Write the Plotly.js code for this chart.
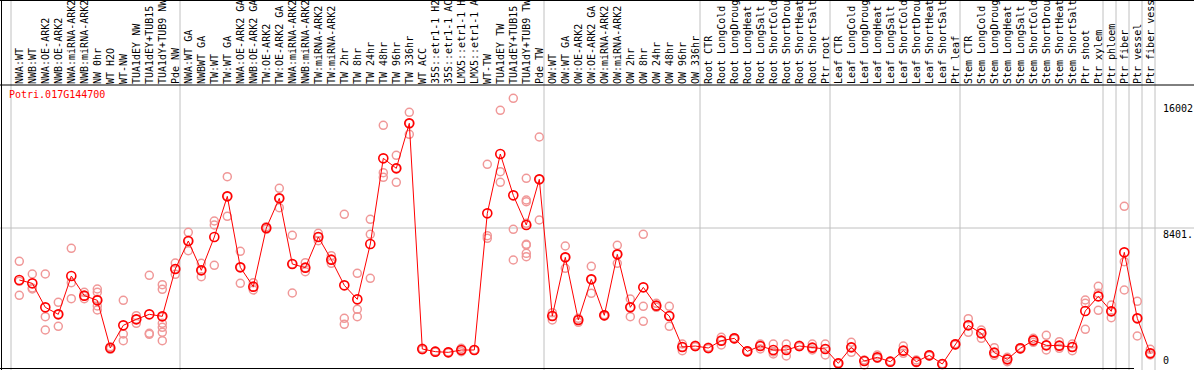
<!DOCTYPE html>
<html>
<head>
<meta charset="utf-8">
<script src="https://cdn.plot.ly/plotly-3.0.1.min.js"></script>
<style>
html,body{margin:0;padding:0;background:#fff;}
#chart{width:1194px;height:370px;}
</style>
</head>
<body>
<div id="chart"></div>
<script>
const geneName = "Potri.017G144700";

const categories = [
 "NWA:WT","NWB:WT","NWA:OE-ARK2","NWB:OE-ARK2","NWA:miRNA-ARK2","NWB:miRNA-ARK2","NW 0hr","WT H2O","WT-NW","TUA1dEY NW","TUA1dEY+TUB15","TUA1dY+TUB9 NW","Pde NW",
 "NWA:WT GA","NWBWT GA","TW:WT","TW:WT GA","NWA:OE-ARK2 GA","NWB:OE-ARK2 GA","TW:OE-ARK2","TW:OE-ARK2 GA","NWA:miRNA-ARK2","NWB:miRNA-ARK2","TW:miRNA-ARK2","TW:miRNA-ARK2",
 "TW 2hr","TW 8hr","TW 24hr","TW 48hr","TW 96hr","TW 336hr","WT ACC","35S::etr1-1 H2","35S::etr1-1 AC","LMX5::etr1-1 H","LMX5::etr1-1 A","WT-TW","TUA1dEY TW","TUA1dEY+TUB15","TUA1dY+TUB9 TW","Pde TW",
 "OW:WT","OW:WT GA","OW:OE-ARK2","OW:OE-ARK2 GA","OW:miRNA-ARK2","OW:miRNA-ARK2","OW 2hr","OW 8hr","OW 24hr","OW 48hr","OW 96hr","OW 336hr",
 "Root CTR","Root LongCold","Root LongDroug","Root LongHeat","Root LongSalt","Root ShortCold","Root ShortDrou","Root ShortHeat","Root ShortSalt","Ptr root",
 "Leaf CTR","Leaf LongCold","Leaf LongDroug","Leaf LongHeat","Leaf LongSalt","Leaf ShortCold","Leaf ShortDrou","Leaf ShortHeat","Leaf ShortSalt","Ptr leaf",
 "Stem CTR","Stem LongCold","Stem LongDroug","Stem LongHeat","Stem LongSalt","Stem ShortCold","Stem ShortDrou","Stem ShortHeat","Stem ShortSalt","Ptr shoot","Ptr xylem",
 "Ptr phloem","Ptr fiber","Ptr vessel","Ptr fiber vess"
];

// index of the last category of each group (group separators)
const groupEnds = [-1, 12, 40, 52, 62, 72, 83, 84, 85, 86, 87];

const means = [
 5258,5057,3606,3183,5500,4311,4029,1148,2518,2881,3183,3062,5923,
 7615,5842,7857,10315,6024,4855,8401,10194,6225,6004,7857,6487,
 4936,4090,7434,12611,12007,14727,1088,927,886,1027,1027,9287,12873,10375,8582,11342,
 3082,6628,2841,5298,3123,6809,3606,4815,3707,3082,1209,1269,
 1148,1592,1733,947,1269,1027,1027,1269,1168,1088,
 222,1189,363,584,322,987,322,705,181,1370,
 2518,2035,866,463,1128,1612,1309,1289,1209,3385,4271,
 3364,6930,2941,826
];

const replicates = [
 [6386,5178,4331],[5621,4775,4714],[5621,3042,2236],[3908,3183,2458],[7172,5097,4130],[4513,4291,4130],
 [4714,4513,4090,3687,3445],[1229,1148,1068],[4029,1994,1592],[3102,2639,2881],[5540,2035,1974],
 [4976,4694,3042,2639,2397,2095,1592],[6286,5601,5923],
 [8139,7031,7615],[6265,5460,5842],[8824,8582,6145],[11503,9106,10315],[6991,5057,6024],[5097,4654,4815],
 [8481,8401,8320],[10798,9630,10194],[7958,4472,6225],[6306,5762,6004],[8079,7635,7857],[6729,6265,6487],
 [9227,2941,2579],[5661,3485,3042],[8925,8018,5359],[14606,11745,11463],[12793,11161,12007],[15392,14062,14727],
 [1048,1088,1128],[907,927,947],[866,886,906],[1128,927,1027],[1007,1027,1047],
 [12249,7938,7776],[15512,11806,11161],[16238,8320,6467],
 [11403,10093,9992,8683,7414,7373,6870,6668],[13901,8884,11342],
 [3284,2841,3082],[7313,5963,6628],[2941,2700,2841],[6084,4452,5298],[3083,3123,3163],[7353,6265,6809],
 [4110,3042,3606],[8018,3667,2760],[3848,3606,3707],[3667,2458,3082],[1390,987,1209],[1269,1229,1309],
 [1148,1108,1188],[1793,1330,1592],[1733,1693,1773],[947,907,987],[1390,1088,1269],[1390,786,907],
 [1390,665,1027],[1269,1229,1309],[1390,1027,1168],[1390,725,1088],
 [222,202,242],[1491,886,1189],[423,121,363],[725,524,584],[322,302,342],[1269,826,987],[322,423,262],
 [705,665,745],[181,161,201],[1370,1330,1410],
 [2921,2095,2518],[2236,1733,2035],[1168,705,866],[584,322,463],[1128,1088,1168],[1733,1612,1491],
 [1914,1027,1309],[1531,1128,1289],[1390,987,1209],[4049,3848,2276],[4875,3425,4452],
 [3747,2982,3364],[9710,4654,6366],[3969,1874,2941],[1068,725,826]
];

const axisMarks = [16002, 8401, 0];
const axisMarkText = ["16002", "8401.", "0"];

// ---- layout geometry ----
const W = 1194, H = 370;
const marginTop = 85, marginBottom = 1;
const plotH = H - marginTop - marginBottom;
const firstX = 19.3, step = 13;           // pixel position of first category, spacing
const xRange = [-firstX / step, (W - firstX) / step];
const zeroPix = 367, pxPerUnit = 139 / 8401; // pixel y of 0, scale
const yRange = [-(H - marginBottom - zeroPix) / pxPerUnit, (zeroPix - marginTop) / pxPerUnit];
const paperY = p => (H - marginBottom - p) / plotH; // pixel y -> paper y
const paperX = p => p / W;

const idx = categories.map((_, i) => i);
const repX = [], repY = [];
replicates.forEach((arr, i) => arr.forEach(v => { repX.push(i); repY.push(v); }));

const traces = [
 {
  x: repX, y: repY, type: 'scatter', mode: 'markers', hoverinfo: 'skip',
  marker: {symbol: 'circle-open', size: 8, color: '#f09898', line: {width: 1.5, color: '#f09898'}},
  showlegend: false, cliponaxis: false
 },
 {
  x: idx, y: means, type: 'scatter', mode: 'lines+markers',
  line: {color: '#ff0000', width: 1},
  marker: {symbol: 'circle-open', size: 9, color: '#ff0000', line: {width: 1.6, color: '#ff0000'}},
  showlegend: false, cliponaxis: false
 }
];

const grey = '#c0c0c0';
const shapes = [];
groupEnds.forEach(g => {
  const xv = g + (firstX + step * (g + 1) - firstX - 8.3 - step * g + step * g) / step * 0; // placeholder
});
// vertical separators, 4.7px right of the last category of each group
groupEnds.forEach(g => {
  const xv = g + 4.7 / step;
  shapes.push({type: 'line', xref: 'x', yref: 'paper', x0: xv, x1: xv, y0: paperY(H), y1: paperY(0),
    line: {color: grey, width: 1}, layer: 'below'});
});
// horizontal middle grid line
shapes.push({type: 'line', xref: 'paper', yref: 'y', x0: 0, x1: 1, y0: axisMarks[1], y1: axisMarks[1],
  line: {color: grey, width: 1}, layer: 'below'});
// black frame lines
const black = '#000000';
shapes.push({type: 'line', xref: 'paper', yref: 'paper', x0: 0, x1: 1, y0: paperY(0.5), y1: paperY(0.5), line: {color: black, width: 1}});
shapes.push({type: 'line', xref: 'paper', yref: 'paper', x0: 0, x1: 1, y0: 1, y1: 1, line: {color: black, width: 1}});
shapes.push({type: 'line', xref: 'paper', yref: 'paper', x0: paperX(1.5), x1: paperX(1.5), y0: paperY(H), y1: paperY(0), line: {color: black, width: 1}});
shapes.push({type: 'line', xref: 'paper', yref: 'paper', x0: 0, x1: paperX(1134), y0: paperY(368.5), y1: paperY(368.5), line: {color: black, width: 1}});

const mono = 'DejaVu Sans Mono, Liberation Mono, monospace';
const annotations = [];
axisMarks.forEach((v, k) => {
  annotations.push({xref: 'paper', yref: 'y', x: paperX(1162), y: v, xanchor: 'left',
    yanchor: k === 2 ? 'bottom' : 'top', text: axisMarkText[k], showarrow: false,
    font: {family: mono, size: 10, color: '#000'}, borderpad: 0});
});
annotations.push({xref: 'paper', yref: 'paper', x: paperX(8), y: paperY(88), xanchor: 'left', yanchor: 'top',
  text: geneName, showarrow: false, font: {family: mono, size: 10, color: '#ff0000'}, borderpad: 0});

const layout = {
  width: W, height: H,
  margin: {l: 0, r: 0, t: marginTop, b: marginBottom, pad: 0},
  paper_bgcolor: '#ffffff', plot_bgcolor: 'rgba(0,0,0,0)',
  font: {family: mono, size: 10, color: '#000'},
  xaxis: {
    range: xRange, side: 'top', tickmode: 'array', tickvals: idx, ticktext: categories,
    tickangle: -90, ticks: '', showgrid: false, zeroline: false, showline: false,
    tickfont: {family: mono, size: 10, color: '#000'}, fixedrange: true
  },
  yaxis: {range: yRange, visible: false, showgrid: false, zeroline: false, fixedrange: true},
  shapes: shapes, annotations: annotations,
  showlegend: false
};

Plotly.newPlot('chart', traces, layout, {displayModeBar: false, staticPlot: true});
</script>
</body>
</html>
